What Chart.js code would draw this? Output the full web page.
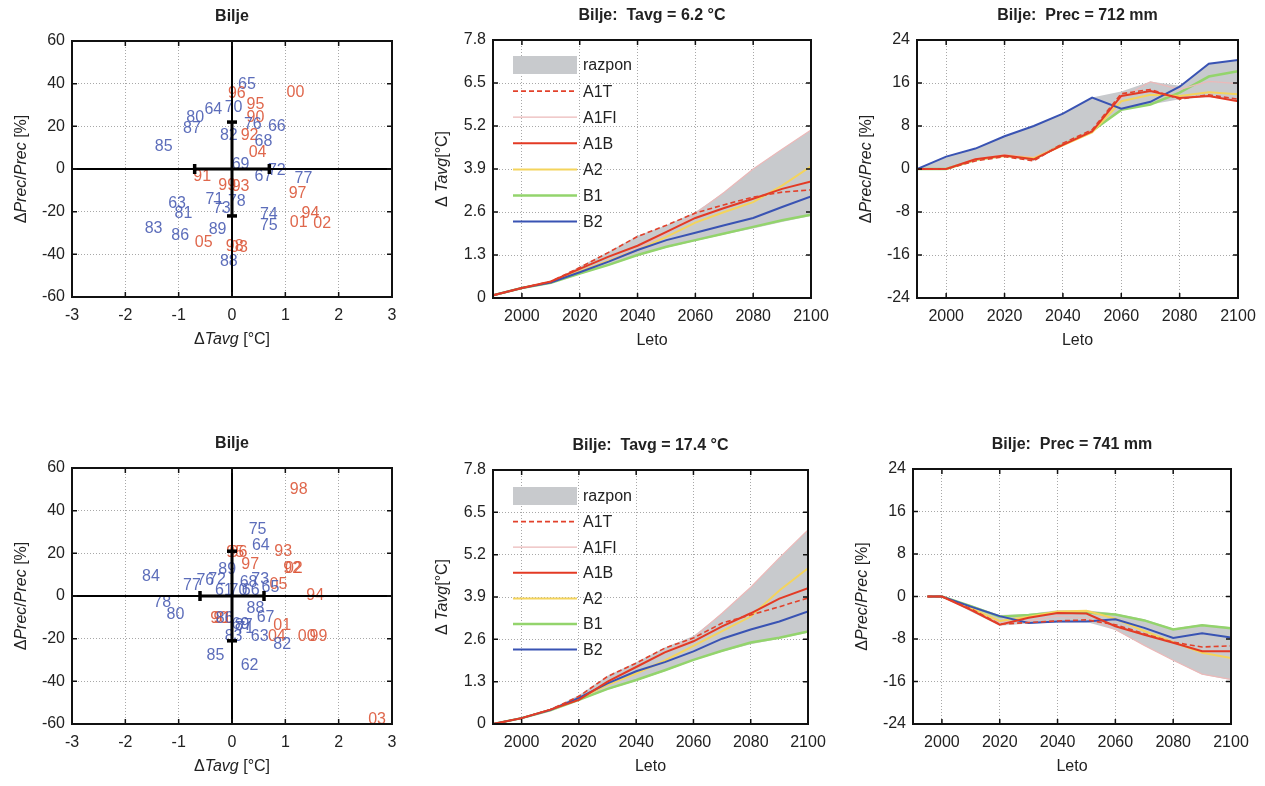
<!DOCTYPE html>
<html><head><meta charset="utf-8">
<script src="https://cdn.jsdelivr.net/npm/chart.js@4.4.1/dist/chart.umd.min.js"></script>
<style>
body{margin:0;background:#fff;width:1265px;height:786px;overflow:hidden;position:relative}
canvas{position:absolute}
</style></head><body>
<canvas id="c0"></canvas><canvas id="c1"></canvas><canvas id="c2"></canvas>
<canvas id="c3"></canvas><canvas id="c4"></canvas><canvas id="c5"></canvas>
<script>
const FONT = "'Liberation Sans', Arial, Helvetica, sans-serif";

// ---------- tick labels ----------
const yearTicks = [2000, 2020, 2040, 2060, 2080, 2100];
const tavgTicks = [0, 1.3, 2.6, 3.9, 5.2, 6.5, 7.8];
const precTicks = [-24, -16, -8, 0, 8, 16, 24];
const scatXTicks = [-3, -2, -1, 0, 1, 2, 3];
const scatYTicks = [-60, -40, -20, 0, 20, 40, 60];

// ---------- categories ----------
const years   = [1990, 2000, 2010, 2020, 2030, 2040, 2050, 2060, 2070, 2080, 2090, 2100];
const yearsBR = [1995, 2000, 2010, 2020, 2030, 2040, 2050, 2060, 2070, 2080, 2090, 2100];
const scenarios = ['A1T', 'A1FI', 'A1B', 'A2', 'B1', 'B2'];

// ---------- top middle: Tavg = 6.2 °C ----------
const tW_A1T  = [0.08, 0.30, 0.50, 0.92, 1.38, 1.86, 2.20, 2.57, 2.82, 3.05, 3.20, 3.27];
const tW_A1FI = [0.08, 0.30, 0.48, 0.82, 1.15, 1.50, 1.95, 2.55, 3.20, 3.90, 4.50, 5.08];
const tW_A1B  = [0.08, 0.30, 0.50, 0.88, 1.25, 1.58, 2.00, 2.42, 2.72, 3.00, 3.30, 3.52];
const tW_A2   = [0.08, 0.30, 0.48, 0.80, 1.12, 1.45, 1.85, 2.28, 2.60, 2.90, 3.40, 3.98];
const tW_B1   = [0.08, 0.30, 0.46, 0.74, 1.00, 1.30, 1.55, 1.75, 1.95, 2.15, 2.35, 2.52];
const tW_B2   = [0.08, 0.30, 0.47, 0.78, 1.10, 1.45, 1.75, 1.97, 2.20, 2.42, 2.75, 3.07];
const tW_hi   = [0.08, 0.30, 0.50, 0.95, 1.40, 1.88, 2.20, 2.60, 3.20, 3.90, 4.50, 5.08];
const tW_lo   = [0.08, 0.30, 0.45, 0.72, 0.98, 1.28, 1.52, 1.72, 1.92, 2.10, 2.30, 2.48];

// ---------- top right: Prec = 712 mm ----------
const pW_A1T  = [0, 0, 1.5, 2.3, 1.5, 4.8, 7.3, 14.0, 14.8, 13.0, 13.8, 13.0];
const pW_A1FI = [0, 0, 1.9, 2.7, 2.2, 4.6, 7.2, 13.2, 16.2, 14.8, 16.3, 15.9];
const pW_A1B  = [0, 0, 1.8, 2.5, 1.8, 4.5, 7.0, 13.6, 14.5, 13.2, 13.6, 12.6];
const pW_A2   = [0, 0, 1.7, 2.4, 2.0, 4.4, 6.8, 12.6, 13.8, 13.6, 14.3, 13.9];
const pW_B1   = [0, 0, 1.7, 2.5, 1.9, 4.6, 7.1, 11.0, 12.0, 14.2, 17.2, 18.2];
const pW_B2   = [0, 2.3, 3.8, 6.1, 8.0, 10.3, 13.3, 11.2, 12.5, 15.3, 19.6, 20.3];
const pW_hi   = [0, 2.3, 3.8, 6.1, 8.0, 10.3, 13.3, 14.4, 16.3, 15.5, 19.6, 20.3];
const pW_lo   = [0, 0, 1.5, 2.3, 1.5, 4.4, 6.8, 11.0, 12.0, 13.0, 13.4, 12.6];

// ---------- bottom middle: Tavg = 17.4 °C ----------
const tS_A1T  = [0.00, 0.18, 0.44, 0.85, 1.46, 1.87, 2.33, 2.64, 3.10, 3.35, 3.60, 3.87];
const tS_A1FI = [0.00, 0.18, 0.44, 0.80, 1.30, 1.75, 2.20, 2.65, 3.40, 4.20, 5.10, 5.96];
const tS_A1B  = [0.00, 0.18, 0.44, 0.74, 1.30, 1.75, 2.20, 2.54, 3.00, 3.40, 3.85, 4.17];
const tS_A2   = [0.00, 0.18, 0.43, 0.78, 1.20, 1.55, 1.95, 2.40, 2.85, 3.30, 4.10, 4.78];
const tS_B1   = [0.00, 0.18, 0.42, 0.74, 1.08, 1.35, 1.65, 1.97, 2.25, 2.50, 2.65, 2.84];
const tS_B2   = [0.00, 0.18, 0.43, 0.80, 1.25, 1.62, 1.90, 2.23, 2.62, 2.90, 3.15, 3.46];
const tS_hi   = [0.00, 0.18, 0.45, 0.88, 1.48, 1.90, 2.35, 2.70, 3.40, 4.20, 5.10, 5.96];
const tS_lo   = [0.00, 0.18, 0.42, 0.72, 1.05, 1.32, 1.62, 1.95, 2.22, 2.45, 2.62, 2.80];

// ---------- bottom right: Prec = 741 mm ----------
const pS_A1T  = [0, 0, -2.3, -5.2, -4.9, -4.6, -4.4, -5.3, -7.0, -8.6, -9.5, -9.3];
const pS_A1FI = [0, 0, -2.6, -4.8, -4.6, -3.7, -4.0, -6.2, -9.2, -12.0, -14.6, -15.6];
const pS_A1B  = [0, 0, -2.5, -5.3, -4.0, -3.1, -3.2, -5.6, -7.2, -8.7, -10.3, -10.3];
const pS_A2   = [0, 0, -2.2, -4.6, -3.8, -2.8, -2.7, -4.2, -6.5, -8.6, -10.6, -11.6];
const pS_B1   = [0, 0, -1.8, -3.8, -3.5, -3.0, -3.0, -3.4, -4.5, -6.2, -5.4, -6.0];
const pS_B2   = [0, 0, -1.9, -3.7, -5.0, -4.7, -4.7, -4.3, -5.9, -7.8, -6.9, -7.7];
const pS_hi   = [0, 0, -1.6, -3.5, -3.3, -2.6, -2.6, -3.2, -4.3, -6.0, -5.2, -5.8];
const pS_lo   = [0, 0, -2.8, -5.5, -5.1, -4.9, -4.8, -6.3, -9.2, -12.0, -14.7, -15.7];

// ---------- top left scatter (year labels) ----------
const s1Lbl = ['65','96','00','64','70','80','95','90','76','66','87','82','92','68','04','85','69','72','67','77','91','99','93','97','71','78','73','63','81','74','75','94','01','02','83','86','89','05','98','03','88'];
const s1X   = [0.28,0.09,1.19,-0.35,0.03,-0.69,0.44,0.44,0.39,0.84,-0.75,-0.06,0.33,0.59,0.48,-1.28,0.16,0.84,0.59,1.34,-0.56,-0.09,0.16,1.23,-0.33,0.09,-0.19,-1.03,-0.91,0.69,0.69,1.47,1.25,1.69,-1.47,-0.97,-0.27,-0.53,0.05,0.13,-0.06];
const s1Y   = [39.4,35.5,36,27.7,28.9,24.2,30,24.2,20.6,19.8,19.1,15.5,15.5,12.8,7.6,10.5,1.9,-0.8,-3.6,-4.4,-3.6,-8,-8.3,-11.4,-14.5,-15.3,-18.4,-16.1,-20.8,-21.6,-26.6,-21.1,-25.2,-25.8,-27.8,-31.4,-28.6,-34.5,-36.5,-37,-43.4];
const err1  = [0.7, 22];

// ---------- bottom left scatter (year labels) ----------
const s2Lbl = ['98','75','64','93','95','96','97','92','02','84','89','77','76','72','68','73','05','65','61','70','66','94','78','80','88','67','90','91','86','69','87','01','71','83','63','04','00','99','82','85','62','03'];
const s2X   = [1.25,0.48,0.54,0.96,0.06,0.12,0.34,1.13,1.16,-1.52,-0.09,-0.75,-0.5,-0.28,0.31,0.53,0.87,0.72,-0.15,0.12,0.35,1.56,-1.31,-1.06,0.44,0.63,-0.24,-0.18,-0.14,0.16,0.22,0.94,0.25,0.03,0.52,0.84,1.4,1.62,0.94,-0.31,0.33,2.72];
const s2Y   = [50,31.3,23.6,20.8,20.3,20.3,14.9,12.8,12.8,9.1,12.5,4.8,7.4,7.8,6.3,7.8,5.5,3.9,2.3,2.3,2.5,0,-3.1,-8.6,-5.8,-10.1,-10.8,-10.8,-10.8,-13.3,-14,-14,-15.5,-18.8,-19.1,-19.1,-18.8,-18.8,-22.6,-28,-32.8,-57.8];
const err2  = [0.6, 21];

// ---------- styles ----------
const COL = {A1T:'#e2412b', A1FI:'#ebb9b9', A1B:'#e33a24', A2:'#f4d45c', B1:'#93d46c', B2:'#3953b3', range:'#c8cacd'};
const LBL_BLUE = '#4a5db3', LBL_RED = '#dc5638';
const PADL = 70, PADT = 45, PADR = 30, PADB = 60;
const TICK_SIZE = 16, TITLE_SIZE = 16, AXT_SIZE = 16, LEG_SIZE = 16;

function axis(min, max, ticks, fmt, isX){
  return {
    type:'linear', min, max,
    afterBuildTicks: s => { s.ticks = ticks.map(v => ({value:v})); },
    afterFit: s => { if (isX) s.height = PADB; else s.width = PADL; },
    grid:{color:'#a8a8a8', lineWidth:1, drawTicks:false},
    border:{display:false, dash:[1,2]},
    ticks:{padding: isX ? 9 : 7, color:'#222', font:{family:FONT, size:TICK_SIZE}, maxRotation:0, autoSkip:false,
           callback: v => fmt(v)}
  };
}
const fmtInt = v => String(Math.round(v));
const fmtT = v => v === 0 ? '0' : v.toFixed(1);

function drawSegs(ctx, segs, x, y, rot, size, bold){
  ctx.save(); ctx.translate(x, y); ctx.rotate(rot);
  const fonts = segs.map(s => (s.i ? 'italic ' : '') + (bold ? 'bold ' : '') + size + 'px ' + FONT);
  let total = 0;
  segs.forEach((s,k) => { ctx.font = fonts[k]; total += ctx.measureText(s.t).width; });
  let cx = -total/2;
  ctx.textBaseline = 'middle'; ctx.textAlign = 'left'; ctx.fillStyle = '#222';
  segs.forEach((s,k) => { ctx.font = fonts[k]; ctx.fillText(s.t, cx, 0); cx += ctx.measureText(s.t).width; });
  ctx.restore();
}

const framePlugin = {
  id:'frame',
  afterDatasetsDraw(chart){
    const {ctx, chartArea:a} = chart; const xs = chart.scales.x, ys = chart.scales.y;
    ctx.save();
    ctx.strokeStyle = '#111'; ctx.lineWidth = 1.5;
    ctx.beginPath();
    xs.ticks.forEach(t => { const p = xs.getPixelForValue(t.value);
      ctx.moveTo(p, a.bottom); ctx.lineTo(p, a.bottom-5); ctx.moveTo(p, a.top); ctx.lineTo(p, a.top+5); });
    ys.ticks.forEach(t => { const p = ys.getPixelForValue(t.value);
      ctx.moveTo(a.left, p); ctx.lineTo(a.left+5, p); ctx.moveTo(a.right, p); ctx.lineTo(a.right-5, p); });
    ctx.stroke();
    ctx.lineWidth = 2;
    ctx.strokeRect(a.left, a.top, a.right-a.left, a.bottom-a.top);
    ctx.restore();
  },
  afterDraw(chart){
    const o = chart.options.plugins.frame; if (!o) return;
    const {ctx, chartArea:a} = chart;
    const cx = (a.left + a.right)/2, cy = (a.top + a.bottom)/2;
    drawSegs(ctx, o.title, cx, a.top - 24, 0, TITLE_SIZE, true);
    drawSegs(ctx, o.xTitle, cx, a.bottom + 43, 0, AXT_SIZE, false);
    drawSegs(ctx, o.yTitle, a.left - 50, cy, -Math.PI/2, AXT_SIZE, false);
  }
};

const labelPlugin = {
  id:'yearLabels',
  beforeDatasetsDraw(chart){
    const ctx = chart.ctx;
    chart.data.datasets.forEach((ds, di) => {
      if (!ds.textLabels) return;
      const meta = chart.getDatasetMeta(di);
      ctx.save();
      ctx.font = '16px ' + FONT; ctx.textAlign = 'center'; ctx.textBaseline = 'middle';
      meta.data.forEach((el, i) => {
        const t = ds.textLabels[i];
        const n = parseInt(t, 10);
        ctx.fillStyle = (n >= 90 || n < 10) ? LBL_RED : LBL_BLUE;
        ctx.globalAlpha = 0.9;
        ctx.fillText(t, el.x, el.y);
      });
      ctx.restore();
    });
  }
};

const legendPlugin = {
  id:'inLegend',
  afterDatasetsDraw(chart){
    const o = chart.options.plugins.inLegend; if (!o) return;
    const {ctx, chartArea:a} = chart;
    const x0 = a.left + 20, x1 = a.left + 84, tx = a.left + 90;
    ctx.save();
    ctx.font = LEG_SIZE + 'px ' + FONT; ctx.textBaseline = 'middle'; ctx.textAlign = 'left';
    o.items.forEach((name, k) => {
      const y = a.top + o.first + k * o.step;
      const ds = chart.data.datasets.find(d => d.label === name);
      if (name === 'razpon') {
        ctx.fillStyle = ds.backgroundColor; ctx.fillRect(x0, y - 9, x1 - x0, 18);
      } else {
        ctx.strokeStyle = ds.borderColor; ctx.lineWidth = ds.borderWidth;
        ctx.setLineDash(ds.borderDash || []);
        ctx.beginPath(); ctx.moveTo(x0, y); ctx.lineTo(x1, y); ctx.stroke();
        ctx.setLineDash([]);
      }
      ctx.fillStyle = '#222'; ctx.fillText(name, tx, y + 1);
    });
    ctx.restore();
  }
};

function place(id, r){
  const c = document.getElementById(id);
  c.width = r.R - r.L + PADL + PADR; c.height = r.B - r.T + PADT + PADB;
  c.style.left = (r.L - PADL) + 'px'; c.style.top = (r.T - PADT) + 'px';
  return c;
}

const baseOpts = () => ({
  responsive:false, animation:false, events:[],
  layout:{padding:{left:0, top:PADT, right:PADR, bottom:0}},
  plugins:{legend:{display:false}, tooltip:{enabled:false}, filler:{drawTime:'beforeDatasetsDraw'}}
});

const yPrec = [{t:'Δ'},{t:'Prec',i:true},{t:'/'},{t:'Prec',i:true},{t:' [%]'}];
const xTavg = [{t:'Δ'},{t:'Tavg',i:true},{t:' [°C]'}];
const yTavg = [{t:'Δ '},{t:'Tavg',i:true},{t:'[°C]'}];
const xLeto = [{t:'Leto'}];

function scatter(id, rect, lbl, xs, ys, err){
  const c = place(id, rect);
  const o = baseOpts();
  o.scales = {x: axis(-3, 3, scatXTicks, fmtInt, true), y: axis(-60, 60, scatYTicks, fmtInt, false)};
  o.plugins.frame = {title:[{t:'Bilje'}], xTitle:xTavg, yTitle:yPrec};
  const line = (data, w, extra) => Object.assign({data, showLine:true, borderColor:'#000', borderWidth:w, pointRadius:0}, extra||{});
  new Chart(c, {
    type:'scatter',
    data:{datasets:[
      line([{x:0,y:-err[1]},{x:0,y:err[1]}], 3, {pointStyle:'line', pointRadius:5, pointBorderWidth:3.5, pointBorderColor:'#000', pointRotation:0}),
      line([{x:-err[0],y:0},{x:err[0],y:0}], 3, {pointStyle:'line', pointRadius:5, pointBorderWidth:3.5, pointBorderColor:'#000', pointRotation:90}),
      line([{x:-3,y:0},{x:3,y:0}], 2),
      line([{x:0,y:-60},{x:0,y:60}], 2),
      {data: xs.map((x,i) => ({x, y:ys[i]})), pointRadius:0, textLabels: lbl}
    ]},
    options:o,
    plugins:[labelPlugin, framePlugin]
  });
}

function lineChart(id, rect, xv, s, hi, lo, yMin, yMax, yTicks, fmt, title, yTitle, legend){
  const c = place(id, rect);
  const o = baseOpts();
  o.scales = {x: axis(1990, 2100, yearTicks, fmtInt, true), y: axis(yMin, yMax, yTicks, fmt, false)};
  o.plugins.frame = {title, xTitle:xLeto, yTitle};
  if (legend) o.plugins.inLegend = {items:['razpon', ...scenarios], first:legend.first, step:legend.step};
  const pts = arr => arr.map((v,i) => ({x:xv[i], y:v}));
  const ln = (label, arr, col, w, dash) => ({label, data:pts(arr), borderColor:col, borderWidth:w, borderDash:dash||[], pointRadius:0, fill:false, tension:0});
  new Chart(c, {
    type:'line',
    data:{datasets:[
      ln('A1T', s.A1T, COL.A1T, 1.6, [5,3]),
      ln('A1B', s.A1B, COL.A1B, 2, []),
      ln('B2', s.B2, COL.B2, 2, []),
      ln('A2', s.A2, COL.A2, 2, []),
      ln('A1FI', s.A1FI, COL.A1FI, 1.2, []),
      ln('B1', s.B1, COL.B1, 2.5, []),
      {label:'razpon', data:pts(hi), borderWidth:0, pointRadius:0, backgroundColor:COL.range, fill:'+1', tension:0},
      {label:'lo', data:pts(lo), borderWidth:0, pointRadius:0, fill:false, tension:0}
    ]},
    options:o,
    plugins:[framePlugin, legendPlugin]
  });
}

scatter('c0', {L:72, T:41, R:392, B:297}, s1Lbl, s1X, s1Y, err1);
scatter('c3', {L:72, T:468, R:392, B:724}, s2Lbl, s2X, s2Y, err2);

lineChart('c1', {L:493, T:40, R:811, B:298}, years,
  {A1T:tW_A1T, A1FI:tW_A1FI, A1B:tW_A1B, A2:tW_A2, B1:tW_B1, B2:tW_B2}, tW_hi, tW_lo,
  0, 7.8, tavgTicks, fmtT, [{t:'Bilje:  Tavg = 6.2 °C'}], yTavg, {first:25, step:26.1});
lineChart('c2', {L:917, T:40, R:1238, B:298}, years,
  {A1T:pW_A1T, A1FI:pW_A1FI, A1B:pW_A1B, A2:pW_A2, B1:pW_B1, B2:pW_B2}, pW_hi, pW_lo,
  -24, 24, precTicks, fmtInt, [{t:'Bilje:  Prec = 712 mm'}], yPrec, null);
lineChart('c4', {L:493, T:470, R:808, B:724}, years,
  {A1T:tS_A1T, A1FI:tS_A1FI, A1B:tS_A1B, A2:tS_A2, B1:tS_B1, B2:tS_B2}, tS_hi, tS_lo,
  0, 7.8, tavgTicks, fmtT, [{t:'Bilje:  Tavg = 17.4 °C'}], yTavg, {first:26, step:25.6});
lineChart('c5', {L:913, T:469, R:1231, B:724}, yearsBR,
  {A1T:pS_A1T, A1FI:pS_A1FI, A1B:pS_A1B, A2:pS_A2, B1:pS_B1, B2:pS_B2}, pS_hi, pS_lo,
  -24, 24, precTicks, fmtInt, [{t:'Bilje:  Prec = 741 mm'}], yPrec, null);
</script>
</body></html>
